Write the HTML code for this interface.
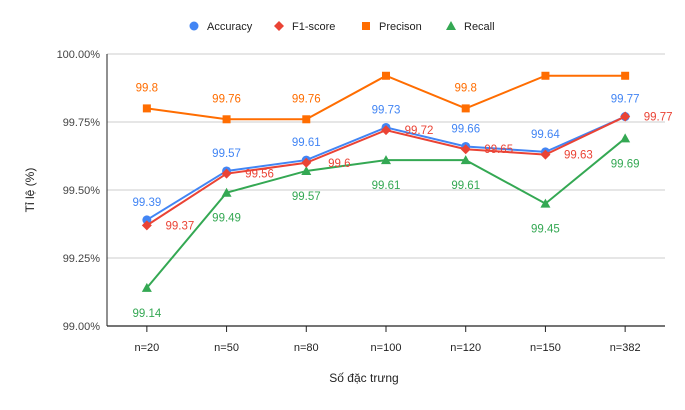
<!DOCTYPE html>
<html><head><meta charset="utf-8"><style>
body{margin:0;background:#fff;font-family:"Liberation Sans",Arial,sans-serif}
svg text{font-family:"Liberation Sans",Arial,sans-serif}
</style></head><body>
<svg id="c" width="685" height="405" xmlns="http://www.w3.org/2000/svg"></svg>
<script>
const categories=["n=20","n=50","n=80","n=100","n=120","n=150","n=382"];
const accuracy=[99.39,99.57,99.61,99.73,99.66,99.64,99.77];
const f1score=[99.37,99.56,99.6,99.72,99.65,99.63,99.77];
const precision=[99.8,99.76,99.76,99.92,99.8,99.92,99.92];
const recall=[99.14,99.49,99.57,99.61,99.61,99.45,99.69];
const yTicks=[99,99.25,99.5,99.75,100];
const yTickLabels=["99.00%","99.25%","99.50%","99.75%","100.00%"];
const precisionShowLabel=[true,true,true,false,true,false,false];

const svg=document.getElementById('c');
const NS='http://www.w3.org/2000/svg';
const L=107,R=665,T=54,B=326;
const x=i=>L+(R-L)/categories.length*(i+0.5);
const y=v=>B-(v-99)/(100-99)*(B-T);
function el(tag,attrs,parent){const e=document.createElementNS(NS,tag);for(const k in attrs)e.setAttribute(k,attrs[k]);(parent||svg).appendChild(e);return e;}
function txt(s,attrs){const e=el('text',attrs);e.textContent=s;return e;}

yTicks.forEach((t,i)=>{
  if(i>0){
    const g=el('line',{x1:L,x2:R,y1:y(t),y2:y(t),stroke:'#ccc','stroke-width':1});
    
    
  }
  const lb=txt(yTickLabels[i],{x:100,y:y(t)+4,'text-anchor':'end','font-size':11,fill:'#444'});
  
  
});
const xa=el('line',{x1:L,x2:R,y1:B,y2:B,stroke:'#222','stroke-width':1.3});


const ya=el('line',{x1:L,x2:L,y1:T,y2:B,stroke:'#222','stroke-width':1});


categories.forEach((c,i)=>{
  const tk=el('line',{x1:x(i),x2:x(i),y1:B,y2:B+6,stroke:'#222','stroke-width':1});
  
  
  const lb=txt(c,{x:x(i),y:351,'text-anchor':'middle','font-size':11,fill:'#222'});
  
  
});
const xt=txt('Số đặc trưng',{x:364,y:382,'text-anchor':'middle','font-size':12,fill:'#222'});


const yt=txt('Tỉ lệ (%)',{x:0,y:0,'text-anchor':'middle','font-size':12,fill:'#222',transform:'translate(34,190) rotate(-90)'});



function marker(type,cx,cy,color){
  let m;
  if(type=='circle')m=el('circle',{cx,cy,r:4.5,fill:color});
  else if(type=='diamond')m=el('polygon',{points:`${cx},${cy-5} ${cx+5},${cy} ${cx},${cy+5} ${cx-5},${cy}`,fill:color});
  else if(type=='square')m=el('rect',{x:cx-4,y:cy-4,width:8,height:8,fill:color});
  else m=el('polygon',{points:`${cx},${cy-5} ${cx+5},${cy+4} ${cx-5},${cy+4}`,fill:color});
  return m;
}
const series=[
 {name:'recall',data:recall,color:'#34a853',type:'tri'},
 {name:'precision',data:precision,color:'#ff6d01',type:'square'},
 {name:'accuracy',data:accuracy,color:'#4285f4',type:'circle'},
 {name:'f1-score',data:f1score,color:'#ea4335',type:'diamond'}
];
series.forEach(s=>{
  const p=el('polyline',{points:s.data.map((v,i)=>x(i)+','+y(v)).join(' '),fill:'none',stroke:s.color,'stroke-width':2});
  
  
  s.data.forEach((v,i)=>{
    const m=marker(s.type,x(i),y(v),s.color);
    
    
  });
});
function label(v,i,dx,dy,color,name){
  const t=txt(String(v),{x:x(i)+dx,y:y(v)+dy,'text-anchor':'middle','font-size':11.5,fill:color});
  
  
}
accuracy.forEach((v,i)=>label(v,i,0,-14,'#4285f4','accuracy-label'));
f1score.forEach((v,i)=>label(v,i,33,4,'#ea4335','f1-label'));
precision.forEach((v,i)=>{if(precisionShowLabel[i])label(v,i,0,-17,'#ff6d01','precision-label');});
recall.forEach((v,i)=>label(v,i,0,29,'#34a853','recall-label'));

const legend=[['Accuracy','circle','#4285f4',194],['F1-score','diamond','#ea4335',279],['Precison','square','#ff6d01',366],['Recall','tri','#34a853',451]];
legend.forEach(l=>{
  const m=marker(l[1],l[3],26,l[2]);
  
  
  const t=txt(l[0],{x:l[3]+13,y:30,'font-size':11,fill:'#222'});
  
  
});
</script>
</body></html>
